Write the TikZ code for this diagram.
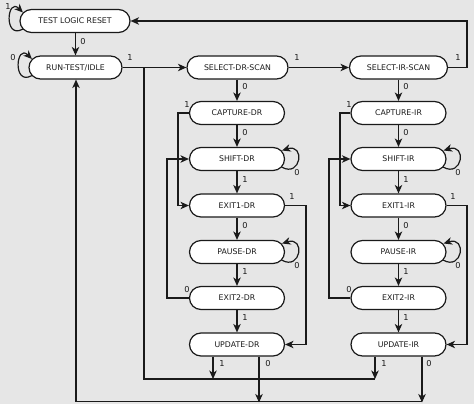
\documentclass[tikz,border=0pt]{standalone}
\usepackage{fontspec}
\setmainfont{DejaVu Sans}
\usetikzlibrary{arrows.meta,calc}
\definecolor{bg}{HTML}{E6E6E6}
\definecolor{ln}{HTML}{1A1A1A}
\begin{document}
\begin{tikzpicture}[x=1pt,y=-1pt,
  state/.style={draw=ln, fill=white, rounded corners=11.5pt, minimum height=23pt,
    minimum width=95pt, inner sep=0pt, line width=1.2pt,
    font=\fontsize{7.8}{9}\selectfont, text=ln},
  wire/.style={draw=ln, line width=1.2pt},
  arr/.style={wire, -{Stealth[length=8.5pt,width=7.5pt,inset=2.5pt]}},
  lbl/.style={font=\fontsize{8.2}{9}\selectfont, text=ln, inner sep=0pt}]
\fill[bg] (0,0) rectangle (474,404);
\useasboundingbox (0,0) rectangle (474,404);

% states
\node[state, minimum width=110pt] (tlr) at (75,21) {TEST LOGIC RESET};
\node[state, minimum width=93pt] (rti) at (75.5,67.5) {RUN-TEST/IDLE};
\node[state, minimum width=101pt] (sdr) at (237.5,67.5) {SELECT-DR-SCAN};
\node[state, minimum width=98pt] (sir) at (398.5,67.5) {SELECT-IR-SCAN};

\node[state] (cdr) at (237,113) {CAPTURE-DR};
\node[state] (shdr) at (237,159) {SHIFT-DR};
\node[state] (e1dr) at (237,205.5) {EXIT1-DR};
\node[state] (pdr) at (237,252) {PAUSE-DR};
\node[state] (e2dr) at (237,298) {EXIT2-DR};
\node[state] (udr) at (237,344.5) {UPDATE-DR};

\node[state] (cir) at (398.5,113) {CAPTURE-IR};
\node[state] (shir) at (398.5,159) {SHIFT-IR};
\node[state] (e1ir) at (398.5,205.5) {EXIT1-IR};
\node[state] (pir) at (398.5,252) {PAUSE-IR};
\node[state] (e2ir) at (398.5,298) {EXIT2-IR};
\node[state] (uir) at (398.5,344.5) {UPDATE-IR};

% corner coordinates
\coordinate (c1) at (467,67.5);
\coordinate (c2) at (467,21);
\coordinate (j1) at (144,67.5);
\coordinate (j2) at (144,379);
\coordinate (j3) at (375,379);
\coordinate (b1) at (76,401.5);
\coordinate (b2) at (422,401.5);
\coordinate (d1) at (213,379);
\coordinate (d0) at (259,401.5);
\coordinate (i1) at (375,379);
\coordinate (i0) at (422,401.5);

% self loops (left)
\draw[arr] ([shift={(3.4,8.1)}]tlr.west) .. controls +(-19.4,10.9) and +(-16,-16) .. ([shift={(3.5,-8.5)}]tlr.west);
\draw[arr] ([shift={(3.4,8.1)}]rti.west) .. controls +(-19.4,10.9) and +(-16,-16) .. ([shift={(3.5,-8.5)}]rti.west);
% self loops (right)
\foreach \n in {shdr,pdr,shir,pir}
  \draw[arr] ([shift={(-3.4,8.1)}]\n.east) .. controls +(19.4,10.9) and +(23.5,-7.5) .. ([shift={(-3,-8.5)}]\n.east);

% main transitions
\draw[arr] (tlr.south -| rti.south) -- (rti.north);
\draw[arr] (rti.east) -- (sdr.west);
\draw[arr] (sdr.east) -- (sir.west);
\draw[arr] (sir.east) -- (c1) -- (c2) -- (tlr.east);
\draw[arr] (sdr.south -| cdr.north) -- (cdr.north);
\draw[arr] (sir.south) -- (cir.north);

\foreach \a/\b in {cdr/shdr,shdr/e1dr,e1dr/pdr,pdr/e2dr,e2dr/udr,cir/shir,shir/e1ir,e1ir/pir,pir/e2ir,e2ir/uir}
  \draw[arr] (\a.south) -- (\b.north);

% DR side paths
\draw[arr] (cdr.west) -- (178,113) -- (178,205.5) -- (e1dr.west);
\draw[arr] (e2dr.west) -- (167,298) -- (167,159) -- (shdr.west);
\draw[arr] (e1dr.east) -- (306,205.5) -- (306,344.5) -- (udr.east);
% IR side paths
\draw[arr] (cir.west) -- (340,113) -- (340,205.5) -- (e1ir.west);
\draw[arr] (e2ir.west) -- (329,298) -- (329,159) -- (shir.west);
\draw[arr] (e1ir.east) -- (467,205.5) -- (467,344.5) -- (uir.east);

% update exits
\draw[arr] (udr.south -| d1) -- (d1);
\draw[arr] (udr.south -| d0) -- ([yshift=-1pt]d0);
\draw[arr] (uir.south -| i1) -- (i1);
\draw[arr] (uir.south -| i0) -- ([yshift=-1pt]i0);

% return lines
\draw[wire] (j1) -- (j2) -- (j3);
\draw[wire] (b2) -- (b1);
\draw[arr] (b1) -- (b1 |- rti.south);

% labels
\node[lbl] at (8,7) {1};
\node[lbl] at (83,42) {0};
\node[lbl] at (13,58) {0};
\node[lbl] at (130,58) {1};
\node[lbl] at (297,58) {1};
\node[lbl] at (458,58) {1};
\node[lbl] at (245,87) {0};
\node[lbl] at (406,87) {0};
\foreach \x in {245,406}{
  \node[lbl] at (\x,133) {0};
  \node[lbl] at (\x,180) {1};
  \node[lbl] at (\x,226) {0};
  \node[lbl] at (\x,272) {1};
  \node[lbl] at (\x,318) {1};
}
\node[lbl] at (187,105) {1};
\node[lbl] at (349,105) {1};
\node[lbl] at (187,290) {0};
\node[lbl] at (349,290) {0};
\node[lbl] at (292,197) {1};
\node[lbl] at (453,197) {1};
\node[lbl] at (297,173) {0};
\node[lbl] at (458,173) {0};
\node[lbl] at (297,266) {0};
\node[lbl] at (458,266) {0};
\node[lbl] at (222,364) {1};
\node[lbl] at (268,364) {0};
\node[lbl] at (384,364) {1};
\node[lbl] at (429,364) {0};
\end{tikzpicture}
\end{document}
